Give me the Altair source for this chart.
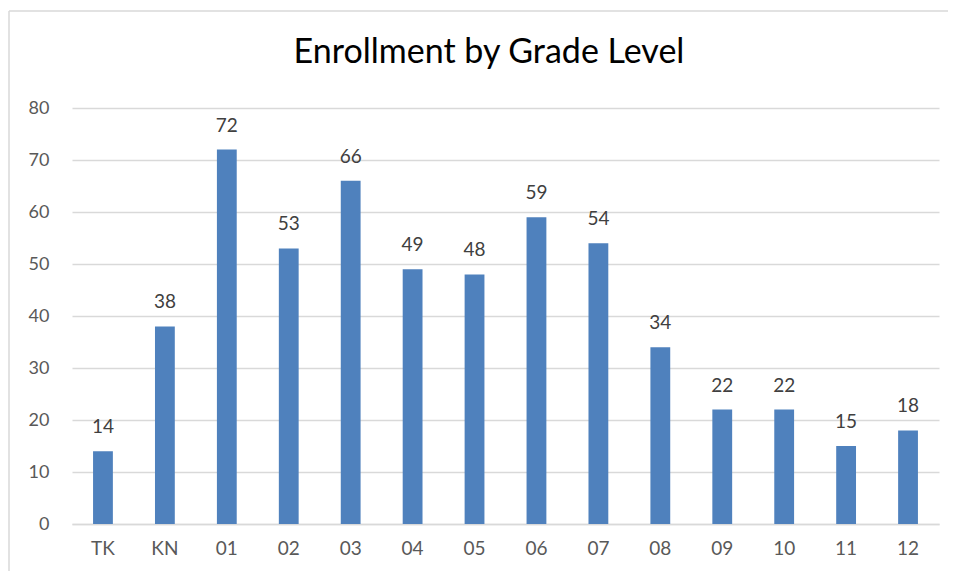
import altair as alt
import pandas as pd

grades = ["TK", "KN", "01", "02", "03", "04", "05", "06", "07", "08", "09", "10", "11", "12"]
enrollment = [14, 38, 72, 53, 66, 49, 48, 59, 54, 34, 22, 22, 15, 18]
y_ticks = [0, 10, 20, 30, 40, 50, 60, 70, 80]
title_text = "Enrollment by Grade Level"

df = pd.DataFrame({"grade": grades, "count": enrollment})
FONT = "Lato"
one = pd.DataFrame({"a": [0]})

x = alt.X("grade:N", sort=grades, title=None,
          scale=alt.Scale(paddingInner=0.68, paddingOuter=0.34),
          axis=alt.Axis(labelAngle=0, ticks=False, domain=True, domainColor="#d9d9d9",
                        domainWidth=1.5, labelPadding=15, labelFontSize=19,
                        labelColor="#595959", labelFont=FONT, grid=False))
y = alt.Y("count:Q", title=None,
          scale=alt.Scale(domain=[0, 80], nice=False),
          axis=alt.Axis(values=y_ticks, ticks=False, domain=False, gridColor="#d9d9d9",
                        gridWidth=1.5, labelPadding=23, labelFontSize=18,
                        labelColor="#595959", labelFont=FONT))

frame_left = alt.Chart(one).mark_rule(color="#d9d9d9", strokeWidth=1.5).encode(
    x=alt.value(-63), y=alt.value(-97), y2=alt.value(600))
frame_top = alt.Chart(one).mark_rule(color="#d9d9d9", strokeWidth=1.5).encode(
    x=alt.value(-63), x2=alt.value(1000), y=alt.value(-97))

title = alt.Chart(pd.DataFrame({"t": [title_text]})).mark_text(
    fontSize=34, font=FONT, color="#000000", align="center", baseline="alphabetic"
).encode(x=alt.value(417), y=alt.value(-45), text="t:N")

bars = alt.Chart(df).mark_bar(color="#4F81BD").encode(x=x, y=y)
labels = alt.Chart(df).mark_text(
    baseline="alphabetic", dy=-18, fontSize=19, font=FONT, color="#404040"
).encode(x=alt.X("grade:N", sort=grades), y="count:Q", text="count:Q")

chart = alt.layer(frame_left, frame_top, title, bars, labels).properties(
    width=867, height=416,
    autosize=alt.AutoSizeParams(type="none"),
    padding={"left": 64, "top": 100, "right": 9, "bottom": 47},
).configure_view(stroke=None)

chart.save("out.html", embed_options={"renderer": "svg", "actions": False})
